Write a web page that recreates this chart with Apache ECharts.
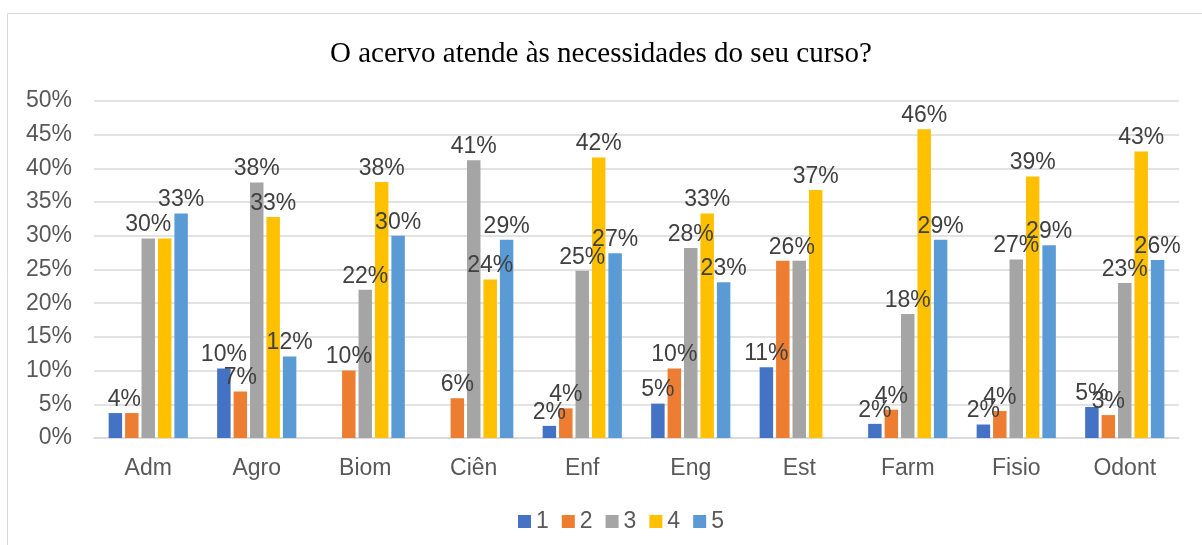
<!DOCTYPE html>
<html>
<head>
<meta charset="utf-8">
<script src="https://cdn.jsdelivr.net/npm/echarts@6/dist/echarts.min.js"></script>
<style>html,body{margin:0;padding:0;background:#fff}#c{width:1202px;height:545px}</style>
</head>
<body>
<div id="c"></div>
<script>
const categories = ['Adm','Agro','Biom','Ciên','Enf','Eng','Est','Farm','Fisio','Odont'];
const seriesNames = ['1','2','3','4','5'];
const s1 = [3.7, 10.3, 0, 0, 1.8, 5.1, 10.5, 2.1, 2.0, 4.6];
const s2 = [3.7, 6.9, 10.0, 5.9, 4.4, 10.3, 26.3, 4.2, 4.0, 3.4];
const s3 = [29.6, 37.9, 22.0, 41.2, 24.8, 28.2, 26.3, 18.4, 26.5, 23.0];
const s4 = [29.6, 32.8, 38.0, 23.5, 41.6, 33.3, 36.8, 45.8, 38.8, 42.5];
const s5 = [33.3, 12.1, 30.0, 29.4, 27.4, 23.1, 0, 29.4, 28.6, 26.4];
const yTicks = ['0%','5%','10%','15%','20%','25%','30%','35%','40%','45%','50%'];
const allSeries = [s1, s2, s3, s4, s5];
const colors = ['#4472C4','#ED7D31','#A5A5A5','#FFC000','#5B9BD5'];
const SANS = 'Liberation Sans, Arial, sans-serif';

const chart = echarts.init(document.getElementById('c'));
const series = allSeries.map((arr, si) => ({
  name: seriesNames[si],
  type: 'bar',
  barGap: '22%',
  barCategoryGap: '27%',
  itemStyle: { color: colors[si] },
  data: arr.map((v, ci) => {
    const prev = si > 0 ? allSeries[si - 1][ci] : null;
    const next = si < allSeries.length - 1 ? allSeries[si + 1][ci] : null;
    const hide = v === 0 || (prev !== null && prev === v);
    const dupFirst = next !== null && next === v && si !== 2;
    return {
      value: v,
      label: { show: !hide, offset: dupFirst ? [9, 0] : [0, 0] }
    };
  }),
  label: {
    position: 'top',
    distance: 2,
    fontFamily: SANS,
    fontSize: 23,
    color: '#404040',
    formatter: p => Math.round(p.value) + '%'
  }
}));

chart.setOption({
  animation: false,
  backgroundColor: '#fff',
  graphic: [{
    type: 'rect',
    shape: { x: 7.5, y: 13.5, width: 1220, height: 560 },
    style: { fill: 'none', stroke: '#d9d9d9', lineWidth: 1 },
    silent: true
  }],
  title: {
    text: 'O acervo atende às necessidades do seu curso?',
    left: 'center',
    top: 35,
    textStyle: { fontFamily: 'Liberation Serif, Times New Roman, serif', fontSize: 29, fontWeight: 'normal', color: '#000' }
  },
  legend: {
    data: seriesNames,
    top: 505,
    left: 513,
    icon: 'rect',
    itemWidth: 13,
    itemHeight: 13,
    itemGap: 13,
    textStyle: { fontFamily: SANS, fontSize: 23, color: '#595959' }
  },
  grid: { left: 94, right: 23, top: 101, bottom: 107, outerBoundsMode: 'none', containLabel: false },
  xAxis: {
    type: 'category',
    data: categories,
    axisLine: { lineStyle: { color: '#d9d9d9', width: 1.5 } },
    axisTick: { show: false },
    axisLabel: { fontFamily: SANS, fontSize: 23, color: '#595959', margin: 19 }
  },
  yAxis: {
    type: 'value',
    min: 0,
    max: 50,
    interval: 5,
    axisLine: { show: false },
    axisTick: { show: false },
    splitLine: { lineStyle: { color: '#d9d9d9', width: 1.5 } },
    axisLabel: {
      fontFamily: SANS, fontSize: 23, color: '#595959', margin: 22,
      formatter: v => yTicks[Math.round(v / 5)]
    }
  },
  series: series
});
</script>
</body>
</html>
